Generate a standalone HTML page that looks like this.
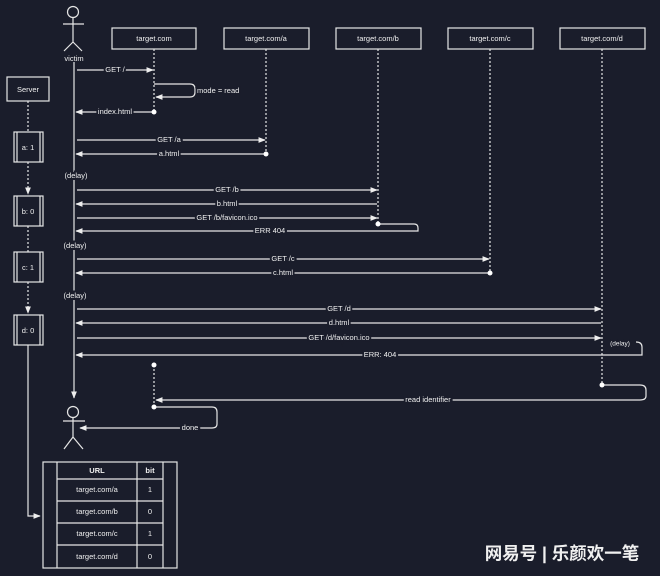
<!DOCTYPE html>
<html><head><meta charset="utf-8"><style>
html,body{margin:0;padding:0;background:#1a1d2b;}
svg{display:block}
text{font-family:"Liberation Sans",sans-serif;font-size:7.5px;fill:#f0f0f0;text-anchor:middle;dominant-baseline:middle}
</style></head><body>
<svg width="660" height="576" viewBox="0 0 660 576" xmlns="http://www.w3.org/2000/svg">
<defs>
<marker id="a" viewBox="0 0 10 10" refX="9" refY="5" markerWidth="6" markerHeight="6" orient="auto-start-reverse"><path d="M0,1 L10,5 L0,9 z" fill="#eee"/></marker>
</defs>
<rect width="660" height="576" fill="#1a1d2b"/>
<g stroke="#e6e6e6" stroke-width="1.2" fill="none">
<circle cx="73" cy="12" r="5.5"/>
<path d="M73 18V42M63 24H84M73 42L64 51M73 42L82 51"/>
<rect x="112" y="28" width="84" height="21"/>
<rect x="224" y="28" width="85" height="21"/>
<rect x="336" y="28" width="85" height="21"/>
<rect x="448" y="28" width="85" height="21"/>
<rect x="560" y="28" width="85" height="21"/>
<rect x="7" y="77" width="42" height="24"/>
<path d="M74 62V398" marker-end="url(#a)"/>
<g stroke-dasharray="2 2">
<path d="M154 49V112M266 49V154M378 49V224M490 49V273M602 49V385M154 365V407"/>
<path d="M28 101V132"/>
<path d="M28 162V194" marker-end="url(#a)"/>
<path d="M28 226V252"/>
<path d="M28 282V313" marker-end="url(#a)"/>
</g>
<rect x="14" y="132" width="29" height="30"/><path d="M17 132V162M40 132V162"/>
<rect x="14" y="196" width="29" height="30"/><path d="M17 196V226M40 196V226"/>
<rect x="14" y="252" width="29" height="30"/><path d="M17 252V282M40 252V282"/>
<rect x="14" y="315" width="29" height="30"/><path d="M17 315V345M40 315V345"/>
<path d="M28 345V516H40" marker-end="url(#a)"/>
<path d="M77 70H153" marker-end="url(#a)"/>
<path d="M154 84H190Q195 84 195 89V92Q195 97 190 97H156" marker-end="url(#a)"/>
<path d="M153 112H76" marker-end="url(#a)"/>
<path d="M77 140H265" marker-end="url(#a)"/>
<path d="M265 154H76" marker-end="url(#a)"/>
<path d="M77 190H377" marker-end="url(#a)"/>
<path d="M377 204H76" marker-end="url(#a)"/>
<path d="M77 218H377" marker-end="url(#a)"/>
<path d="M378 224H414Q418 224 418 228V231H76" marker-end="url(#a)"/>
<path d="M77 259H489" marker-end="url(#a)"/>
<path d="M489 273H76" marker-end="url(#a)"/>
<path d="M77 309H601" marker-end="url(#a)"/>
<path d="M601 323H76" marker-end="url(#a)"/>
<path d="M77 338H601" marker-end="url(#a)"/>
<path d="M636 342Q642 342 642 347V355H76" marker-end="url(#a)"/>
<path d="M602 385H640Q646 385 646 390V396Q646 400 640 400H156" marker-end="url(#a)"/>
<path d="M154 407H212Q217 407 217 412V424Q217 428 212 428H80" marker-end="url(#a)"/>
<circle cx="73" cy="412" r="5.5"/>
<path d="M73 418V437M63 421H85M73 437L64 449M73 437L83 449"/>
<rect x="43" y="462" width="134" height="106"/>
<path d="M57 462V568M137 462V568M163 462V568M57 479H163M57 501H163M57 523H163M57 545H163"/>
</g>
<g fill="#fff">
<circle cx="154" cy="112" r="2.5"/><circle cx="266" cy="154" r="2.5"/><circle cx="378" cy="224" r="2.5"/>
<circle cx="490" cy="273" r="2.5"/><circle cx="602" cy="385" r="2.5"/><circle cx="154" cy="365" r="2.5"/><circle cx="154" cy="407" r="2.5"/>
</g>
<g>
<text x="74" y="59">victim</text>
<text x="154" y="39">target.com</text><text x="266" y="39">target.com/a</text><text x="378" y="39">target.com/b</text><text x="490" y="39">target.com/c</text><text x="602" y="39">target.com/d</text>
<text x="28" y="90">Server</text>
<text x="28" y="148">a: 1</text><text x="28" y="212">b: 0</text><text x="28" y="268">c: 1</text><text x="28" y="331">d: 0</text>
</g>
<g style="paint-order:stroke" stroke="#1a1d2b" stroke-width="4">
<text x="115" y="70">GET /</text>
<text x="197" y="91" style="text-anchor:start">mode = read</text>
<text x="115" y="112">index.html</text>
<text x="169" y="140">GET /a</text><text x="169" y="154">a.html</text>
<text x="76" y="176">(delay)</text>
<text x="227" y="190">GET /b</text><text x="227" y="204">b.html</text><text x="227" y="218">GET /b/favicon.ico</text><text x="270" y="231">ERR 404</text>
<text x="75" y="246">(delay)</text>
<text x="283" y="259">GET /c</text><text x="283" y="273">c.html</text>
<text x="75" y="296">(delay)</text>
<text x="339" y="309">GET /d</text><text x="339" y="323">d.html</text><text x="339" y="338">GET /d/favicon.ico</text>
<text x="620" y="344" style="font-size:6.5px">(delay)</text>
<text x="380" y="355">ERR: 404</text>
<text x="428" y="400">read identifier</text>
<text x="190" y="428">done</text>
</g>
<g>
<text x="97" y="471" style="font-weight:bold">URL</text><text x="150" y="471" style="font-weight:bold">bit</text>
<text x="97" y="490">target.com/a</text><text x="150" y="490">1</text>
<text x="97" y="512">target.com/b</text><text x="150" y="512">0</text>
<text x="97" y="534">target.com/c</text><text x="150" y="534">1</text>
<text x="97" y="557">target.com/d</text><text x="150" y="557">0</text>
</g>
<text x="562" y="555" style="font-family:'Liberation Sans','Noto Sans CJK SC',sans-serif;font-size:17.5px;font-weight:bold">网易号 | 乐颜欢一笔</text>
</svg>
</body></html>
